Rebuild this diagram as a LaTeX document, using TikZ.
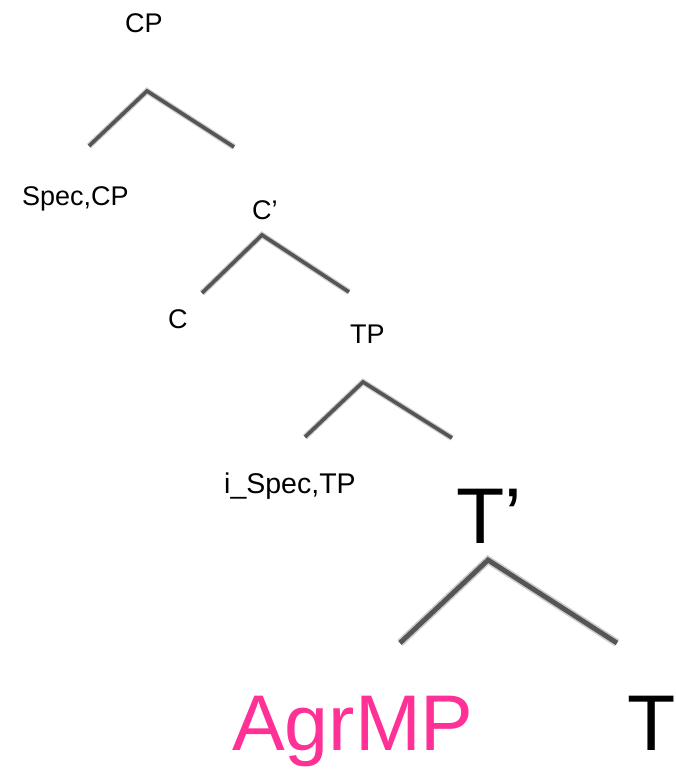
\documentclass[tikz,border=0pt]{standalone}
\usepackage{fontspec}
\setmainfont{Liberation Sans}
\definecolor{agrpink}{RGB}{255,48,150}
\definecolor{branch}{RGB}{85,85,85}
\tikzset{
  lbl/.style={anchor=base west, inner sep=0pt, font=\fontsize{27}{30}\selectfont},
  biglbl/.style={anchor=base west, inner sep=0pt, font=\fontsize{79}{90}\selectfont},
  soft/.style={draw=branch, line width=#1, opacity=0.3},
  core/.style={draw=branch, line width=#1},
}
\newcommand{\branchpair}[4]{%
  % halo for the soft edges, then the darker core
  \draw[soft=#4] (#2) -- (#1) -- (#3);
  \draw[core=#4*0.6] (#2) -- (#1) -- (#3);
}
\begin{document}
\begin{tikzpicture}[x=1pt, y=-1pt]
  \useasboundingbox (0,0) rectangle (676,773);

  % labels
  \node[lbl] (cp) at (125,33) {CP};
  \node[lbl] (speccp) at (22,205) {Spec,CP};
  \node[lbl] (cbar) at (252,219) {C’};
  \node[lbl] (c) at (168,328) {C};
  \node[lbl] (tp) at (350,343) {TP};
  \node[lbl, font=\fontsize{28.5}{32}\selectfont] (spectp) at (224,493) {i\_Spec,TP};
  \node[biglbl] (tbar) at (456,543) {T’};
  \node[biglbl, text=agrpink] (agrmp) at (232,750) {AgrMP};
  \node[biglbl] (t) at (627,750) {T};

  % branch points
  \coordinate (cpTop) at (147,91);
  \coordinate (cpL) at (89,146);
  \coordinate (cpR) at (234,147);
  \coordinate (cbTop) at (262,235);
  \coordinate (cbL) at (202,293);
  \coordinate (cbR) at (349,292);
  \coordinate (tpTop) at (363,382);
  \coordinate (tpL) at (305,437);
  \coordinate (tpR) at (452,438);
  \coordinate (tbTop) at (488,560);
  \coordinate (tbL) at (400,643);
  \coordinate (tbR) at (617,643);

  % branches
  \branchpair{cpTop}{cpL}{cpR}{6pt}
  \branchpair{cbTop}{cbL}{cbR}{6pt}
  \branchpair{tpTop}{tpL}{tpR}{6pt}
  \branchpair{tbTop}{tbL}{tbR}{8pt}
\end{tikzpicture}
\end{document}
